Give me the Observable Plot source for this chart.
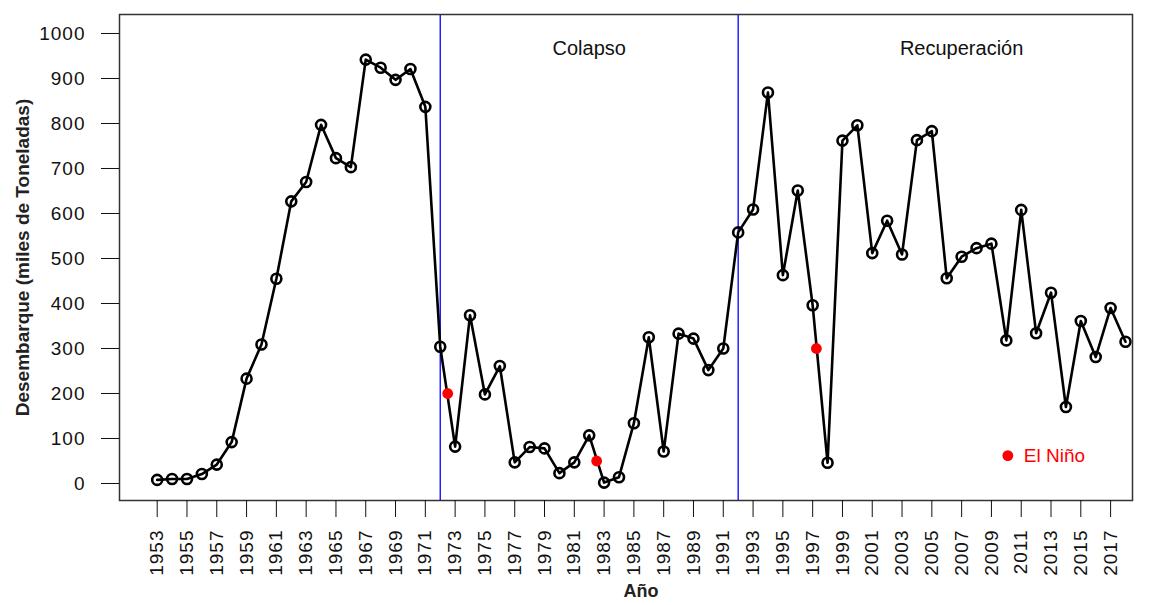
<!DOCTYPE html>
<html><head><meta charset="utf-8">
<script src="https://cdn.jsdelivr.net/npm/d3@7"></script>
<script src="https://cdn.jsdelivr.net/npm/@observablehq/plot@0.6"></script>
<style>
html,body{margin:0;padding:0;background:#fff;}
#chart svg{display:block;}
g[aria-label="y-axis tick label"] text, g[aria-label="x-axis tick label"] text{letter-spacing:1px;}
</style></head><body><div id="chart"></div>
<script>
const years = [1953,1954,1955,1956,1957,1958,1959,1960,1961,1962,1963,1964,1965,1966,1967,1968,1969,1970,1971,1972,1973,1974,1975,1976,1977,1978,1979,1980,1981,1982,1983,1984,1985,1986,1987,1988,1989,1990,1991,1992,1993,1994,1995,1996,1997,1998,1999,2000,2001,2002,2003,2004,2005,2006,2007,2008,2009,2010,2011,2012,2013,2014,2015,2016,2017,2018];
const landings = [8,10,10,21,42,92,233,309,455,627,670,797,723,703,942,924,897,921,837,304,82,374,198,261,47,81,78,23,47,107,2,14,134,325,71,333,322,252,300,558,609,869,463,651,396,46,762,796,512,584,509,763,783,456,504,523,533,318,608,334,424,170,361,281,390,315];
const ninoYears = [1972.5, 1982.5, 1997.25];
const ninoValues = [200, 50, 300];
const periodBreaks = [1972, 1992];
const periodLabels = ["Colapso", "Recuperación"];
const periodLabelYears = [1982, 2007];
const periodLabelValues = [966, 966];
const legendLabels = ["El Niño"];
const legendYears = [2010.1];
const legendValues = [62];
const xTicks = [1953,1955,1957,1959,1961,1963,1965,1967,1969,1971,1973,1975,1977,1979,1981,1983,1985,1987,1989,1991,1993,1995,1997,1999,2001,2003,2005,2007,2009,2011,2013,2015,2017];
const yTicks = [0,100,200,300,400,500,600,700,800,900,1000];
const xTitle = "Año";
const yTitle = "Desembarque (miles de Toneladas)";

const data = years.map((y, i) => ({year: y, value: landings[i]}));
const nino = ninoYears.map((y, i) => ({year: y, value: ninoValues[i]}));
const periods = periodLabels.map((t, i) => ({text: t, year: periodLabelYears[i], value: periodLabelValues[i]}));
const legend = legendLabels.map((t, i) => ({text: t, year: legendYears[i], value: legendValues[i]}));

const chart = Plot.plot({
  width: 1150,
  height: 605,
  marginLeft: 119,
  marginRight: 18,
  marginTop: 14,
  marginBottom: 105,
  style: {fontFamily: "'Liberation Sans', Arial, sans-serif", fontSize: "19px", color: "#111", background: "#fff"},
  x: {domain: [1950.47, 2018.47]},
  y: {domain: [-37.8, 1042.2]},
  marks: [
    Plot.ruleX(periodBreaks, {stroke: "#0000ff", strokeWidth: 1.3}),
    Plot.line(data, {x: "year", y: "value", stroke: "black", strokeWidth: 2.6}),
    Plot.dot(data, {x: "year", y: "value", r: 5, stroke: "black", strokeWidth: 2.6, fill: "none"}),
    Plot.dot(nino, {x: "year", y: "value", r: 5.4, fill: "#ff0000", stroke: "none"}),
    Plot.dot(legend, {x: "year", y: "value", r: 5.4, fill: "#ff0000", stroke: "none"}),
    Plot.text(legend, {x: "year", y: "value", text: "text", textAnchor: "start", dx: 16, fill: "#ff0000", fontSize: 19, style: "letter-spacing:1px"}),
    Plot.text(periods, {x: "year", y: "value", text: "text", fill: "#111", fontSize: 20, style: "letter-spacing:1px"}),
    Plot.frame({stroke: "#333", strokeWidth: 1.5}),
    Plot.axisY({ticks: yTicks, tickFormat: d => String(d), tickSize: 18, tickPadding: 16, label: null, stroke: "#111"}),
    Plot.axisX({ticks: xTicks, tickFormat: d => String(d), tickRotate: -90, tickSize: 17, tickPadding: 12, label: null}),
    Plot.text([yTitle], {frameAnchor: "left", textAnchor: "middle", rotate: -90, dx: -97, fontWeight: "bold", fontSize: 19, fill: "#222"}),
    Plot.text([xTitle], {frameAnchor: "bottom", textAnchor: "middle", dy: 96, dx: 15, fontWeight: "bold", fontSize: 18, fill: "#222"})
  ]
});
document.getElementById("chart").appendChild(chart);
</script></body></html>
